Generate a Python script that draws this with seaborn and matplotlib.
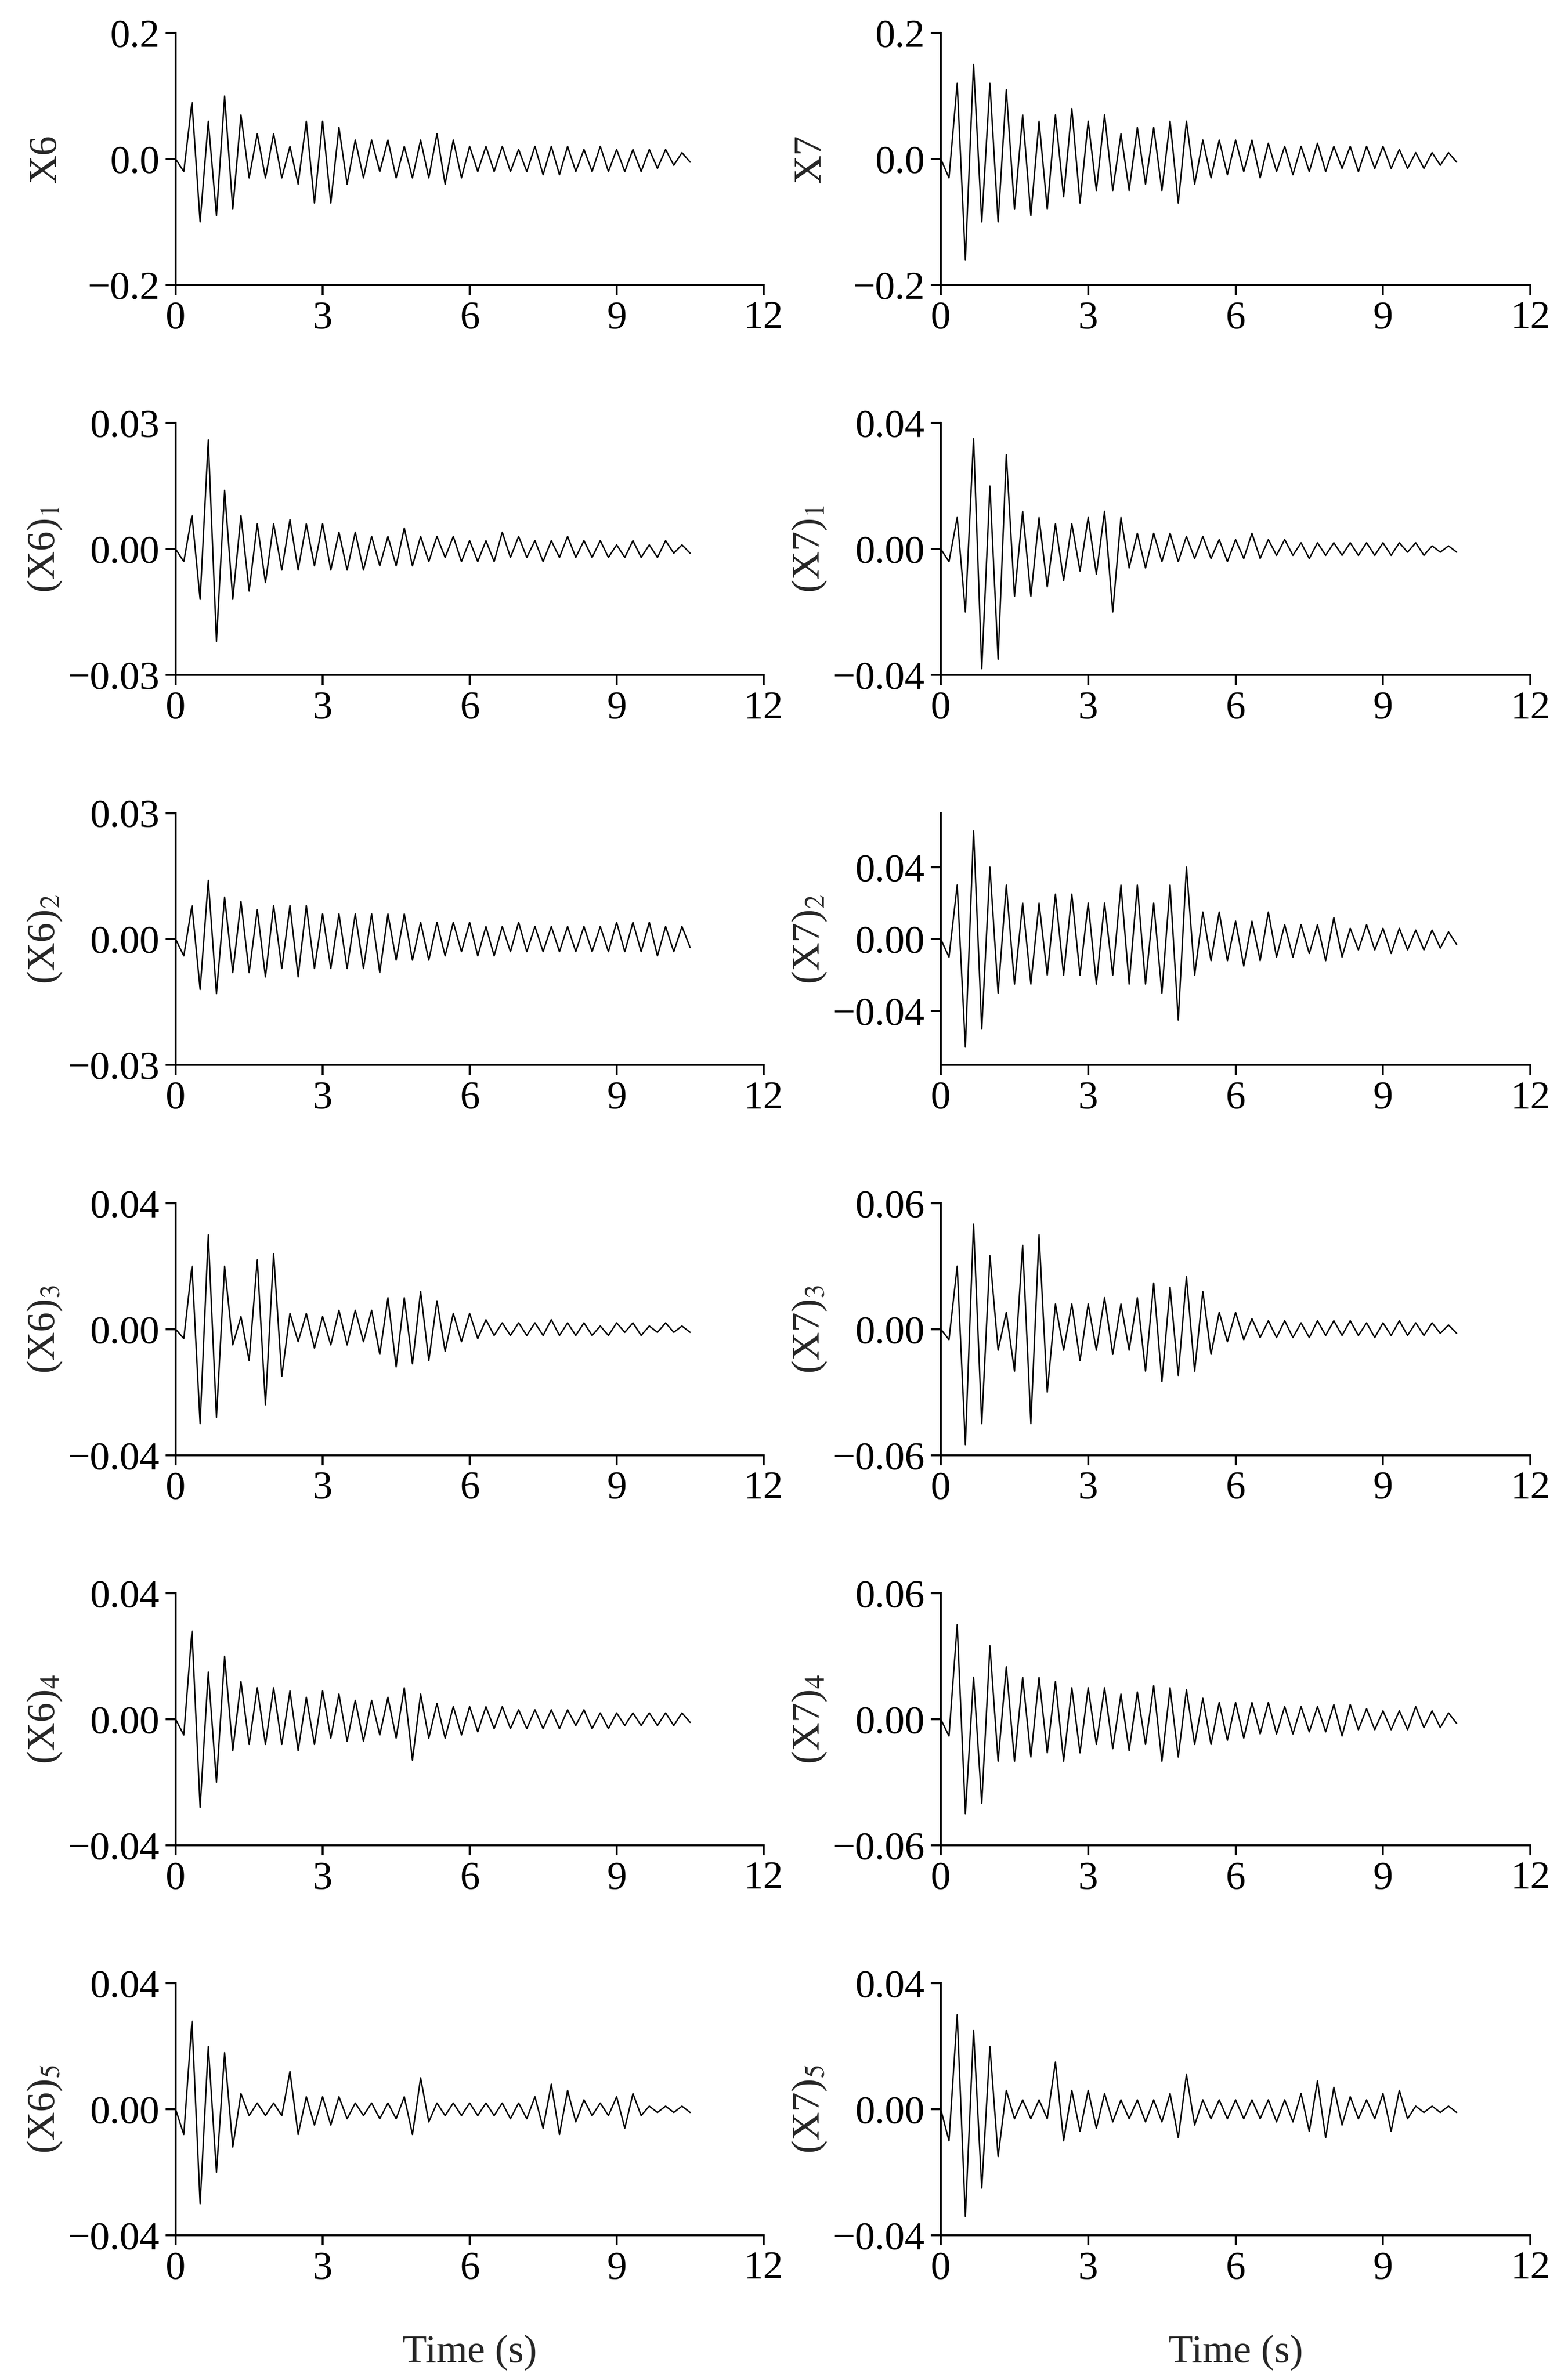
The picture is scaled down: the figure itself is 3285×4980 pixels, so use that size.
import numpy as np
import matplotlib
matplotlib.use("Agg")
import matplotlib.pyplot as plt
import seaborn as sns

sns.set_theme(style="ticks")
plt.rcParams['font.family'] = ['Liberation Serif', 'DejaVu Serif']
plt.rcParams['mathtext.fontset'] = 'stix'

# Alternating-peak amplitudes (time 0 .. 10.5 s)
x6 = [0,0.02,0.09,0.10,0.06,0.09,0.1,0.08,0.07,0.03,0.04,0.03,0.04,0.03,0.02,0.04,0.06,0.07,0.06,0.07,0.05,0.04,0.03,0.03,0.03,0.02,0.03,0.03,0.02,0.03,0.03,0.03,0.04,0.04,0.03,0.03,0.02,0.02,0.02,0.02,0.02,0.02,0.015,0.02,0.02,0.025,0.02,0.025,0.02,0.02,0.015,0.02,0.02,0.02,0.015,0.02,0.015,0.02,0.015,0.015,0.015,0.01,0.01,0.005]
x7 = [0,0.03,0.12,0.16,0.15,0.1,0.12,0.1,0.11,0.08,0.07,0.09,0.06,0.08,0.07,0.06,0.08,0.07,0.06,0.05,0.07,0.05,0.04,0.05,0.05,0.04,0.05,0.05,0.06,0.07,0.06,0.04,0.03,0.03,0.03,0.025,0.03,0.02,0.03,0.03,0.025,0.02,0.02,0.025,0.02,0.02,0.025,0.02,0.02,0.015,0.02,0.02,0.02,0.015,0.02,0.015,0.015,0.015,0.01,0.015,0.01,0.01,0.01,0.005]
x6_1 = [0,0.003,0.008,0.012,0.026,0.022,0.014,0.012,0.008,0.01,0.006,0.008,0.006,0.005,0.007,0.005,0.006,0.004,0.006,0.005,0.004,0.005,0.004,0.005,0.003,0.004,0.003,0.004,0.005,0.004,0.003,0.003,0.003,0.002,0.003,0.003,0.002,0.003,0.002,0.003,0.004,0.002,0.003,0.002,0.002,0.003,0.002,0.002,0.003,0.002,0.002,0.002,0.002,0.002,0.001,0.002,0.002,0.002,0.001,0.002,0.002,0.001,0.001,0.001]
x7_1 = [0,0.004,0.01,0.02,0.035,0.038,0.02,0.035,0.03,0.015,0.012,0.015,0.01,0.012,0.008,0.01,0.008,0.007,0.01,0.008,0.012,0.02,0.01,0.006,0.005,0.006,0.005,0.004,0.005,0.004,0.004,0.003,0.004,0.003,0.003,0.004,0.003,0.003,0.005,0.003,0.003,0.002,0.003,0.002,0.002,0.003,0.002,0.002,0.002,0.002,0.002,0.002,0.002,0.002,0.002,0.002,0.002,0.001,0.002,0.002,0.001,0.001,0.001,0.001]
x6_2 = [0,0.004,0.008,0.012,0.014,0.013,0.01,0.008,0.009,0.008,0.007,0.009,0.008,0.007,0.008,0.009,0.008,0.007,0.006,0.007,0.006,0.007,0.006,0.007,0.006,0.008,0.006,0.005,0.006,0.005,0.004,0.005,0.004,0.004,0.004,0.003,0.004,0.004,0.003,0.004,0.003,0.003,0.004,0.003,0.003,0.003,0.003,0.003,0.003,0.003,0.003,0.003,0.003,0.003,0.004,0.003,0.004,0.003,0.004,0.004,0.003,0.003,0.003,0.002]
x7_2 = [0,0.01,0.03,0.06,0.06,0.05,0.04,0.03,0.03,0.025,0.02,0.025,0.02,0.02,0.025,0.02,0.025,0.02,0.02,0.025,0.02,0.02,0.03,0.025,0.03,0.025,0.02,0.03,0.03,0.045,0.04,0.02,0.015,0.012,0.015,0.012,0.01,0.015,0.01,0.012,0.015,0.01,0.008,0.01,0.008,0.008,0.008,0.012,0.012,0.01,0.006,0.006,0.008,0.006,0.006,0.008,0.006,0.006,0.005,0.006,0.005,0.005,0.004,0.003]
x6_3 = [0,0.003,0.02,0.03,0.03,0.028,0.02,0.005,0.004,0.01,0.022,0.024,0.024,0.015,0.005,0.004,0.005,0.006,0.004,0.005,0.006,0.005,0.006,0.004,0.006,0.008,0.01,0.012,0.01,0.011,0.012,0.01,0.009,0.007,0.005,0.004,0.005,0.003,0.003,0.002,0.002,0.002,0.002,0.002,0.002,0.002,0.003,0.002,0.002,0.002,0.002,0.002,0.001,0.002,0.002,0.001,0.002,0.002,0.001,0.001,0.002,0.001,0.001,0.001]
x7_3 = [0,0.005,0.03,0.055,0.05,0.045,0.035,0.01,0.008,0.02,0.04,0.045,0.045,0.03,0.012,0.01,0.012,0.015,0.012,0.01,0.015,0.012,0.012,0.01,0.015,0.02,0.022,0.025,0.02,0.022,0.025,0.02,0.018,0.012,0.008,0.006,0.008,0.005,0.005,0.004,0.004,0.004,0.004,0.004,0.003,0.004,0.004,0.003,0.004,0.003,0.004,0.003,0.003,0.004,0.003,0.003,0.004,0.003,0.003,0.003,0.003,0.002,0.002,0.002]
x6_4 = [0,0.005,0.028,0.028,0.015,0.02,0.02,0.01,0.012,0.008,0.01,0.008,0.01,0.008,0.009,0.01,0.007,0.008,0.009,0.006,0.008,0.007,0.006,0.007,0.006,0.005,0.007,0.006,0.01,0.013,0.008,0.006,0.005,0.006,0.004,0.005,0.004,0.004,0.004,0.003,0.004,0.003,0.003,0.003,0.003,0.003,0.003,0.003,0.003,0.002,0.003,0.003,0.002,0.003,0.002,0.002,0.002,0.002,0.002,0.002,0.002,0.002,0.002,0.001]
x7_4 = [0,0.008,0.045,0.045,0.02,0.04,0.035,0.02,0.025,0.02,0.02,0.018,0.02,0.016,0.018,0.02,0.015,0.016,0.015,0.012,0.015,0.014,0.012,0.015,0.013,0.012,0.016,0.02,0.015,0.018,0.014,0.012,0.01,0.012,0.008,0.01,0.008,0.009,0.008,0.007,0.008,0.007,0.006,0.007,0.006,0.006,0.006,0.006,0.007,0.008,0.007,0.005,0.005,0.005,0.004,0.005,0.004,0.005,0.006,0.004,0.004,0.004,0.003,0.002]
x6_5 = [0,0.008,0.028,0.03,0.02,0.02,0.018,0.012,0.005,0.002,0.002,0.002,0.002,0.002,0.012,0.008,0.004,0.005,0.004,0.005,0.004,0.003,0.002,0.002,0.002,0.003,0.002,0.003,0.004,0.008,0.01,0.004,0.002,0.002,0.002,0.002,0.002,0.002,0.002,0.002,0.002,0.003,0.002,0.003,0.004,0.006,0.008,0.008,0.006,0.004,0.003,0.002,0.002,0.002,0.004,0.006,0.005,0.002,0.001,0.001,0.001,0.001,0.001,0.001]
x7_5 = [0,0.01,0.03,0.034,0.025,0.025,0.02,0.015,0.006,0.003,0.003,0.003,0.003,0.003,0.015,0.01,0.006,0.007,0.006,0.006,0.005,0.004,0.003,0.003,0.003,0.004,0.003,0.004,0.005,0.009,0.011,0.005,0.003,0.003,0.003,0.003,0.003,0.003,0.003,0.003,0.003,0.004,0.003,0.004,0.005,0.007,0.009,0.009,0.007,0.005,0.004,0.003,0.003,0.003,0.005,0.007,0.006,0.003,0.001,0.001,0.001,0.001,0.001,0.001]

left_series = [x6, x6_1, x6_2, x6_3, x6_4, x6_5]
right_series = [x7, x7_1, x7_2, x7_3, x7_4, x7_5]
left_labels = ['X6', '(X6)$_1$', '(X6)$_2$', '(X6)$_3$', '(X6)$_4$', '(X6)$_5$']
right_labels = ['X7', '(X7)$_1$', '(X7)$_2$', '(X7)$_3$', '(X7)$_4$', '(X7)$_5$']
left_lim = [0.2, 0.03, 0.03, 0.04, 0.04, 0.04]
right_tick = [0.2, 0.04, 0.04, 0.06, 0.06, 0.04]
right_lim = [(0.2, 0.2), (0.04, 0.04), (0.07, 0.07), (0.06, 0.06), (0.06, 0.06), (0.04, 0.04)]
fmt_left = ['%.1f', '%.2f', '%.2f', '%.2f', '%.2f', '%.2f']
xticks = [0, 3, 6, 9, 12]
FS = 20

fig = plt.figure(figsize=(10.95, 16.6), dpi=300)
H = 0.106
def draw(ax, amp, label, tick, lo, hi, fmt):
    a = np.array(amp)
    sign = np.where(np.arange(len(a)) % 2 == 0, 1.0, -1.0)
    t = np.linspace(0, 10.5, len(a))
    sns.lineplot(x=t, y=a * sign, ax=ax, color='black', linewidth=0.7, estimator=None, sort=False)
    ax.set_xlim(0, 12)
    ax.set_xticks(xticks)
    ax.set_ylim(-lo, hi)
    ax.set_yticks([-tick, 0, tick])
    ax.set_yticklabels([(fmt % v).replace('-', '\u2212') for v in [-tick, 0, tick]])
    ax.set_ylabel(label, fontsize=FS)
    ax.tick_params(labelsize=FS, direction='out', length=5, width=1, colors='black', pad=3)
    for s in ['top', 'right']:
        ax.spines[s].set_visible(False)
    for s in ['left', 'bottom']:
        ax.spines[s].set_color('black'); ax.spines[s].set_linewidth(1)
    ax.yaxis.set_label_coords(-0.19, 0.5)

for i in range(6):
    bottom = 1 - (22 + 256 * i + 165) / 1560
    axl = fig.add_axes([0.112, bottom, 0.375, H])
    draw(axl, left_series[i], left_labels[i], left_lim[i], left_lim[i], left_lim[i], fmt_left[i])
    axr = fig.add_axes([0.600, bottom, 0.376, H])
    draw(axr, right_series[i], right_labels[i], right_tick[i], right_lim[i][0], right_lim[i][1], fmt_left[i])
    if i == 5:
        axl.set_xlabel('Time (s)', fontsize=FS, labelpad=24)
        axr.set_xlabel('Time (s)', fontsize=FS, labelpad=24)

fig.savefig('out.png', dpi=300)
